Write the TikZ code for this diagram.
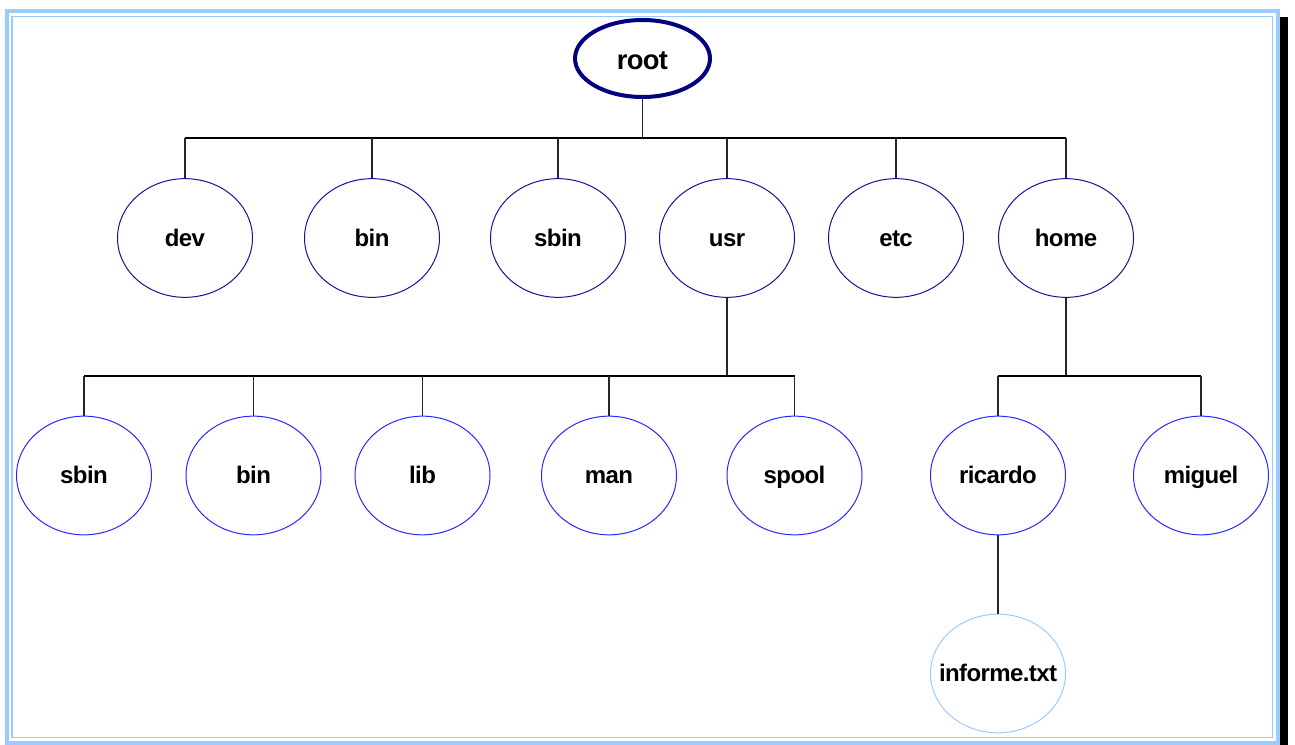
\documentclass[tikz,border=0pt]{standalone}
\usepackage{fontspec}
\setmainfont{Liberation Sans}
\newfontfamily\nodefont[LetterSpace=-2.5]{Liberation Sans}
\usetikzlibrary{shapes.geometric}
\definecolor{frameblue}{RGB}{153,204,255}
\definecolor{rootnavy}{RGB}{0,0,128}
\definecolor{levelone}{RGB}{20,20,150}
\definecolor{leveltwo}{RGB}{40,40,255}
\definecolor{filenode}{RGB}{153,204,255}
\newcommand{\nlabel}[2][1.5pt]{\makebox[0pt]{\smash{\raisebox{-#1}{#2}}\vphantom{x}}}
\tikzset{
  dirnode/.style={ellipse, draw, inner sep=0pt, minimum width=101.25pt, minimum height=89pt,
    font=\nodefont\fontsize{18pt}{20pt}\selectfont\bfseries, text=black, line width=0.75pt},
  rootnode/.style={ellipse, draw=rootnavy, line width=3pt, inner sep=0pt, minimum width=101.25pt, minimum height=57.75pt,
    font=\nodefont\fontsize{20.5pt}{22pt}\selectfont\bfseries, text=black},
  lvlone/.style={dirnode, draw=levelone},
  lvltwo/.style={dirnode, draw=leveltwo},
  filestyle/.style={dirnode, draw=filenode},
  busline/.style={draw=black, line width=1.5pt},
  stemline/.style={draw=black!85, line width=1.1pt},
}
\begin{document}
\begin{tikzpicture}[x=0.75pt,y=-0.75pt]
\useasboundingbox (0,0) rectangle (1295,745);
% frame
\fill[black] (1280,17) rectangle (1288,745);
\draw[frameblue, line width=3pt] (7,11) rectangle (1278,743);
\draw[frameblue, line width=1.3pt] (12,16.5) rectangle (1272.5,737.5);
% nodes
\node[rootnode] (root) at (642.5,58.5) {\nlabel[2.5pt]{root}};
\node[lvlone] (dev) at (185,238) {\nlabel{dev}};
\node[lvlone] (bin) at (372,238) {\nlabel{bin}};
\node[lvlone] (sbin) at (558,238) {\nlabel{sbin}};
\node[lvlone] (usr) at (727,238) {\nlabel{usr}};
\node[lvlone] (etc) at (896,238) {\nlabel{etc}};
\node[lvlone] (home) at (1066,238) {\nlabel{home}};
\node[lvltwo] (usbin) at (84,475.5) {\nlabel{sbin}};
\node[lvltwo] (ubin) at (253.5,475.5) {\nlabel{bin}};
\node[lvltwo] (ulib) at (422.5,475.5) {\nlabel{lib}};
\node[lvltwo] (uman) at (609,475.5) {\nlabel{man}};
\node[lvltwo] (uspool) at (794.5,475.5) {\nlabel{spool}};
\node[lvltwo] (ricardo) at (998,475.5) {\nlabel{ricardo}};
\node[lvltwo] (miguel) at (1201,475.5) {\nlabel{miguel}};
\node[filestyle] (informe) at (998,673.5) {\nlabel{informe.txt}};
% bus coordinates
\coordinate (b1) at (642.5,138);
\coordinate (b2) at (727,376);
\coordinate (b3) at (1066,376);
% root level
\draw[stemline] (root.south) -- (b1);
\draw[busline] (dev.north |- b1) -- (home.north |- b1);
\foreach \n in {dev,bin,sbin,usr,etc,home}
  \draw[stemline] (\n.north |- b1) -- (\n.north);
% usr level
\draw[stemline] (usr.south) -- (b2);
\draw[busline] (usbin.north |- b2) -- (uspool.north |- b2);
\foreach \n in {usbin,ubin,ulib,uman,uspool}
  \draw[stemline] (\n.north |- b2) -- (\n.north);
% home level
\draw[stemline] (home.south) -- (b3);
\draw[busline] (ricardo.north |- b3) -- (miguel.north |- b3);
\foreach \n in {ricardo,miguel}
  \draw[stemline] (\n.north |- b3) -- (\n.north);
% ricardo
\draw[stemline] (ricardo.south) -- (informe.north);
\end{tikzpicture}
\end{document}
